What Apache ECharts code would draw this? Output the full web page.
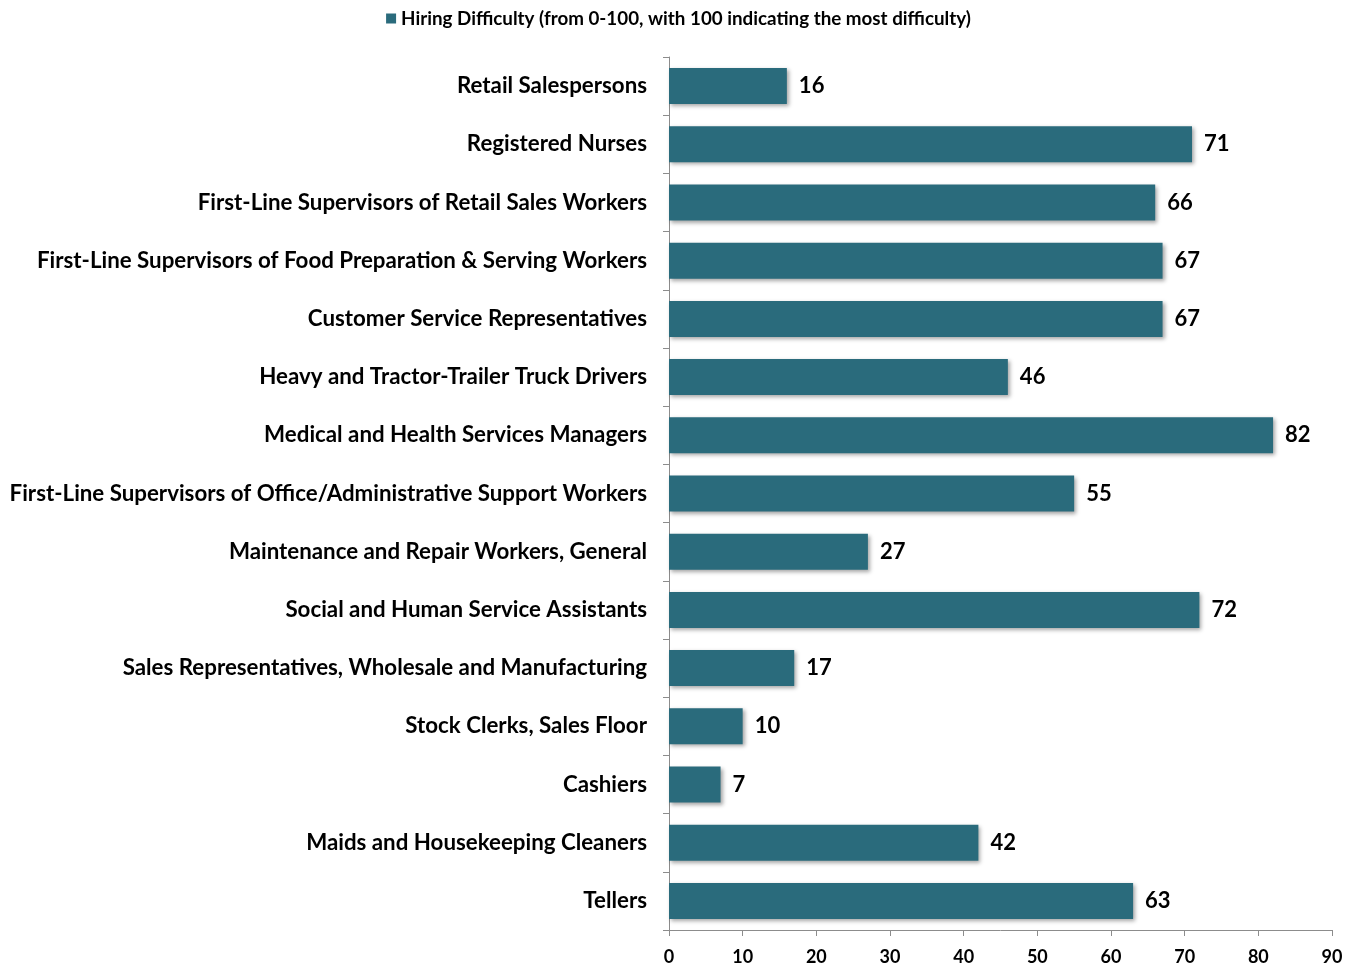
<!DOCTYPE html>
<html><head><meta charset="utf-8">
<script src="https://cdn.jsdelivr.net/npm/echarts@6/dist/echarts.min.js"></script>
<style>html,body{margin:0;padding:0;background:#fff}#c{width:1357px;height:966px}</style>
</head><body><div id="c"></div>
<script>
const categories = [
  "Retail Salespersons",
  "Registered Nurses",
  "First-Line Supervisors of Retail Sales Workers",
  "First-Line Supervisors of Food Preparation & Serving Workers",
  "Customer Service Representatives",
  "Heavy and Tractor-Trailer Truck Drivers",
  "Medical and Health Services Managers",
  "First-Line Supervisors of Office/Administrative Support Workers",
  "Maintenance and Repair Workers, General",
  "Social and Human Service Assistants",
  "Sales Representatives, Wholesale and Manufacturing",
  "Stock Clerks, Sales Floor",
  "Cashiers",
  "Maids and Housekeeping Cleaners",
  "Tellers"
];
const values = [16, 71, 66, 67, 67, 46, 82, 55, 27, 72, 17, 10, 7, 42, 63];
const seriesName = "Hiring Difficulty (from 0-100, with 100 indicating the most difficulty)";
const xTicks = [0, 10, 20, 30, 40, 50, 60, 70, 80, 90];

const FONT = "Lato";
const chart = echarts.init(document.getElementById('c'), null, {renderer: 'canvas'});
chart.setOption({
  animation: false,
  textStyle: {fontFamily: FONT},
  legend: {
    top: 4, left: 'center',
    itemWidth: 10, itemHeight: 10, itemGap: 5,
    icon: 'rect',
    textStyle: {fontFamily: FONT, fontWeight: 'bold', fontSize: 18.8, color: '#000'},
    data: [seriesName]
  },
  grid: {left: 669, right: 25, top: 57, bottom: 34, containLabel: false},
  xAxis: {
    type: 'value', min: xTicks[0], max: xTicks[xTicks.length - 1], interval: 10,
    axisLine: {show: true, lineStyle: {color: '#8c8c8c', width: 1}},
    axisTick: {show: true, length: 6, lineStyle: {color: '#8c8c8c'}},
    splitLine: {show: false},
    axisLabel: {margin: 18, fontFamily: FONT, fontWeight: 'bold', fontSize: 18, color: '#000'}
  },
  yAxis: {
    type: 'category', data: categories, inverse: true,
    axisLine: {show: true, lineStyle: {color: '#8c8c8c', width: 1}},
    axisTick: {show: true, length: 6, lineStyle: {color: '#8c8c8c'}},
    axisLabel: {margin: 22, fontFamily: FONT, fontWeight: 'bold', fontSize: 22.3, color: '#000'}
  },
  series: [{
    name: seriesName, type: 'bar', data: values, barWidth: 36,
    itemStyle: {color: '#2a6b7c', shadowColor: 'rgba(0,0,0,0.35)', shadowBlur: 4, shadowOffsetX: 2, shadowOffsetY: 2},
    label: {show: true, position: 'right', distance: 12, fontFamily: FONT, fontWeight: 'bold', fontSize: 22, color: '#000'}
  }]
});
</script></body></html>
